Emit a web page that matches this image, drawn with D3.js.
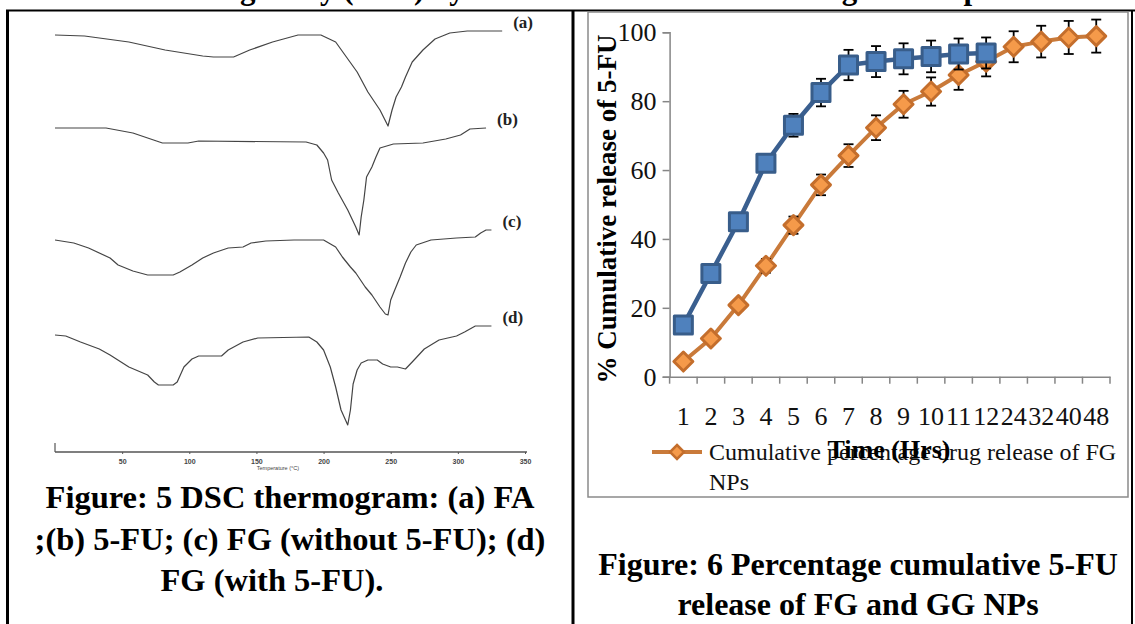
<!DOCTYPE html>
<html><head><meta charset="utf-8">
<script src="https://cdn.jsdelivr.net/npm/d3@7"></script>
<style>body{margin:0;background:#fff}svg{display:block}</style>
</head><body><svg id="c" width="1135" height="624"></svg>
<script>
// ---------- Figure 6 data ----------
const hours = ["1","2","3","4","5","6","7","8","9","10","11","12","24","32","40","48"];
const ggRelease = [15, 30, 45, 62, 73, 82.5, 90.5, 91.5, 92.3, 93, 93.7, 94];
const ggError   = [1.5, 1.5, 2, 2.5, 3.3, 4, 4.4, 4.5, 4.5, 4.6, 4.5, 4.5];
const fgRelease = [4.4, 11.1, 20.8, 32.2, 44, 55.7, 64.2, 72.3, 79.1, 82.8, 87.6, 91.5, 95.8, 97.3, 98.5, 98.9];
const fgError   = [0.5, 1, 1.5, 2, 2.5, 3, 3.3, 3.6, 3.9, 4.1, 4.3, 4.3, 4.5, 4.6, 4.8, 4.8];
const releaseTicks = [0, 20, 40, 60, 80, 100];
const legendLines = ["Cumulative percentage drug release of FG", "NPs"];

// ---------- Figure 5 data (DSC, temperature °C vs heat flow, arbitrary units) ----------
const tempTicks = [50, 100, 150, 200, 250, 300, 350];
const curveLabels = ["(a)", "(b)", "(c)", "(d)"];
const dscTempA = [0,22,55,82,110,118,133,145,162,181,198,209,217,225,233,242,248,251,254,258,261,266,274,283,294,307,333];
const dscFlowA = [41.7,41.6,41.0,40.2,39.6,39.5,39.5,40.2,41.0,41.7,41.7,41.0,39.5,38.0,36.0,34.2,32.6,34.2,35.5,36.5,37.5,39.0,40.2,41.3,41.9,42.1,42.1];
const dscTempB = [0,38,58,80,99,107,187,195,200,203,206,211,218,224,226.5,228,230,232,236,239,242,252,274,291,302,309,321];
const dscFlowB = [32.4,32.4,31.9,30.9,30.9,31.1,31.0,30.7,29.9,29.2,27.2,25.9,24.2,22.5,21.7,23.5,25.2,27.5,28.5,29.5,30.4,30.8,30.9,31.3,31.7,32.3,32.4];
const dscTempC = [0,14,25,41,47,58,69,88,93,102,110,118,129,140,146,157,178,200,209,214,220,224,231,236,242,246,248,250,253,257,261,265,269,280,299,313,317,321,325];
const dscFlowC = [21.2,20.9,20.4,19.4,18.7,18.1,17.7,17.7,18.0,18.7,19.4,19.9,20.4,20.5,20.9,21.1,21.2,21.2,20.5,19.5,18.5,17.9,16.5,15.7,14.5,13.8,13.7,15.2,16.2,17.5,18.9,20.0,20.7,21.2,21.4,21.5,21.9,22.2,22.2];
const dscTempD = [0,8,19,33,41,55,69,74,77,88,91,96,102,107,124,129,140,151,189,195,200,205,209,213,218,220,222,225,228,233,240,244,250,255,261,266,275,286,299,305,313,325];
const dscFlowD = [11.7,11.6,11.0,10.3,9.7,8.5,7.7,7.0,6.7,6.7,7.0,8.5,9.3,9.6,9.6,10.2,11.0,11.4,11.5,11.0,10.2,8.5,6.5,4.2,2.7,4.2,6.8,8.2,8.9,9.2,9.2,8.8,8.5,8.5,8.3,9.0,10.3,11.2,11.6,12.0,12.6,12.6];

// ---------- captions ----------
const caption5 = ["Figure: 5 DSC thermogram: (a) FA", ";(b) 5-FU; (c) FG (without 5-FU); (d)", "FG (with 5-FU)."];
const caption6 = ["Figure: 6 Percentage cumulative 5-FU", "release of FG and GG NPs"];
const headingLeft = "of the sizing study (DLS) by";
const headingRight = "of drug release profile";

const svg = d3.select("#c");
const serif = "'Liberation Serif','Times New Roman',serif";
svg.append("rect").attr("width",1135).attr("height",624).attr("fill","#fff");

// partial heading line cut at the top (only descenders visible, as in the reference)
svg.append("text").attr("x",97).attr("y",-1).attr("font-family",serif).attr("font-weight","bold")
  .attr("font-size",31).text(headingLeft);
svg.append("text").attr("x",760).attr("y",-1).attr("font-family",serif).attr("font-weight","bold")
  .attr("font-size",31).text(headingRight);

// table borders
svg.append("line").attr("x1",6).attr("x2",1135).attr("y1",10.5).attr("y2",10.5).attr("stroke","#000").attr("stroke-width",2);
[[7.5,3],[573,3],[1132,2]].forEach(([x,w]) => {
  svg.append("line").attr("x1",x).attr("x2",x).attr("y1",10).attr("y2",624).attr("stroke","#000").attr("stroke-width",w);
});

// ================= Figure 5 : DSC =================
const tx = d3.scaleLinear().domain([0,350]).range([55,525]);
const hy = d3.scaleLinear().domain([0,42]).range([452,32]);
const dscCurves = [
  {label: curveLabels[0], t: dscTempA, f: dscFlowA},
  {label: curveLabels[1], t: dscTempB, f: dscFlowB},
  {label: curveLabels[2], t: dscTempC, f: dscFlowC},
  {label: curveLabels[3], t: dscTempD, f: dscFlowD}
];
const dscLine = d3.line().x(d => tx(d[0])).y(d => hy(d[1]));
const gd = svg.append("g");
dscCurves.forEach(c => {
  const pts = c.t.map((t,i) => [t, c.f[i]]);
  gd.append("path").attr("d", dscLine(pts)).attr("fill","none")
    .attr("stroke","#444").attr("stroke-width",1.2).attr("stroke-linejoin","round");
  const last = pts[pts.length-1];
  gd.append("text").attr("x", tx(last[0]) + 11).attr("y", hy(last[1]) - 3)
    .attr("font-family",serif).attr("font-weight","bold").attr("font-size",17)
    .attr("fill","#222").text(c.label);
});
// temperature axis
const axT = d3.axisBottom(tx).tickValues(tempTicks).tickSize(2).tickPadding(5);
const gT = svg.append("g").attr("transform","translate(0,452)").call(axT);
gT.select(".domain").attr("stroke","#555").attr("stroke-width",1.4).attr("d","M55,0H527");
gT.selectAll(".tick line").attr("stroke","#555");
gT.selectAll("text").attr("font-family","'Liberation Sans',Arial,sans-serif").attr("font-size",7)
  .attr("font-weight","bold").attr("fill","#444");
svg.append("line").attr("x1",55).attr("x2",55).attr("y1",443).attr("y2",452).attr("stroke","#555").attr("stroke-width",1.2);
svg.append("text").attr("x",tx(166)).attr("y",470).attr("text-anchor","middle")
  .attr("font-family","'Liberation Sans',Arial,sans-serif").attr("font-size",5.5).attr("fill","#444")
  .text("Temperature (°C)");

const cap5x = [290, 290, 272];
caption5.forEach((s,i) => {
  svg.append("text").attr("x",cap5x[i]).attr("y",508 + i*41.5).attr("text-anchor","middle")
    .attr("font-family",serif).attr("font-weight","bold").attr("font-size",32.5).text(s);
});

// ================= Figure 6 : release =================
svg.append("rect").attr("x",588).attr("y",12).attr("width",540).attr("height",485)
  .attr("fill","none").attr("stroke","#8a8a8a").attr("stroke-width",1.5);

const x = d3.scaleBand().domain(hours).range([669.6,1110]).padding(0);
const y = d3.scaleLinear().domain([0,100]).range([376.7,32.3]);
const cx = h => x(h) + x.bandwidth()/2;
const axisGray = "#868686";

// y axis
const gy = svg.append("g").attr("transform","translate(669.6,0)")
  .call(d3.axisLeft(y).tickValues(releaseTicks).tickSize(7).tickPadding(6));
gy.select(".domain").attr("stroke",axisGray).attr("stroke-width",1.5);
gy.selectAll(".tick line").attr("stroke",axisGray).attr("stroke-width",1.5);
gy.selectAll("text").attr("font-family",serif).attr("font-size",26).attr("fill","#111");

// x axis
const gx = svg.append("g").attr("transform","translate(0,376.7)")
  .call(d3.axisBottom(x).tickSize(0).tickPadding(30));
gx.select(".domain").attr("stroke",axisGray).attr("stroke-width",1.5);
gx.selectAll("text").attr("font-family",serif).attr("font-size",26).attr("fill","#111");
const edges = hours.map(h => x(h)).concat([x(hours[hours.length-1]) + x.bandwidth()]);
gx.selectAll(".edge").data(edges).enter().append("line").attr("class","edge")
  .attr("x1",d=>d).attr("x2",d=>d).attr("y1",0).attr("y2",7)
  .attr("stroke",axisGray).attr("stroke-width",1.5);

// axis titles
svg.append("text").attr("transform","translate(607,209) rotate(-90)").attr("text-anchor","middle")
  .attr("dominant-baseline","central").attr("font-family",serif).attr("font-weight","bold")
  .attr("font-size",27).text("% Cumulative release of 5-FU");

function drawSeries(vals, errs, lineColor, lineW, marker) {
  const pts = vals.map((v,i) => ({h: hours[i], v, e: errs[i]}));
  const g = svg.append("g");
  g.append("path").attr("d", d3.line().x(d=>cx(d.h)).y(d=>y(d.v))(pts))
    .attr("fill","none").attr("stroke",lineColor).attr("stroke-width",lineW).attr("stroke-linejoin","round");
  const eb = g.selectAll(".eb").data(pts).enter().append("g");
  eb.append("line").attr("x1",d=>cx(d.h)).attr("x2",d=>cx(d.h))
    .attr("y1",d=>y(d.v+d.e)).attr("y2",d=>y(d.v-d.e)).attr("stroke","#000").attr("stroke-width",1.8);
  [1,-1].forEach(s => {
    eb.append("line").attr("x1",d=>cx(d.h)-5).attr("x2",d=>cx(d.h)+5)
      .attr("y1",d=>y(d.v+s*d.e)).attr("y2",d=>y(d.v+s*d.e)).attr("stroke","#000").attr("stroke-width",1.8);
  });
  g.selectAll(".mk").data(pts).enter().append("path")
    .attr("transform",d=>`translate(${cx(d.h)},${y(d.v)})`)
    .attr("d", marker.d).attr("fill",marker.fill).attr("stroke",marker.stroke).attr("stroke-width",marker.sw)
    .attr("stroke-linejoin","round");
}
const diamond = r => `M0,${-r}L${r},0L0,${r}L${-r},0Z`;
const square = s => `M${-s},${-s}H${s}V${s}H${-s}Z`;

drawSeries(fgRelease, fgError, "#c97a3a", 4, {d: diamond(9.5), fill:"#f59a4a", stroke:"#c46e2c", sw:3});
drawSeries(ggRelease, ggError, "#3a5f8f", 4.5, {d: square(9), fill:"#4f81bd", stroke:"#385d8a", sw:3});

// legend (only FG entry visible)
svg.append("line").attr("x1",652).attr("x2",702).attr("y1",452).attr("y2",452)
  .attr("stroke","#c97a3a").attr("stroke-width",4);
svg.append("path").attr("transform","translate(677,452)").attr("d",diamond(7))
  .attr("fill","#f59a4a").attr("stroke","#c46e2c").attr("stroke-width",2.5);
legendLines.forEach((s,i) => {
  svg.append("text").attr("x",709).attr("y",460 + i*30).attr("font-family",serif)
    .attr("font-size",24).attr("fill","#111").text(s);
});
svg.append("text").attr("x",889).attr("y",458).attr("text-anchor","middle")
  .attr("font-family",serif).attr("font-weight","bold").attr("font-size",26).text("Time (Hrs)");

caption6.forEach((s,i) => {
  svg.append("text").attr("x",858).attr("y",575 + i*40).attr("text-anchor","middle")
    .attr("font-family",serif).attr("font-weight","bold").attr("font-size",32).text(s);
});
</script></body></html>
